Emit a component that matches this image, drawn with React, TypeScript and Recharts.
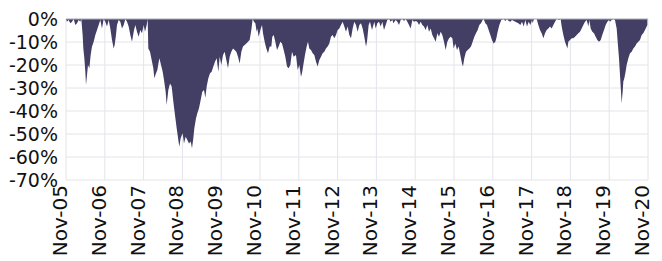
import { AreaChart, Area, XAxis, YAxis, CartesianGrid, ReferenceLine } from 'recharts';

// Drawdown series: months since Nov-05 and drawdown in %
const months = [
  0, 0.31, 0.82, 1.34, 1.86, 2.37, 2.89, 3.4, 3.92, 4.43, 4.74, 5.15, 5.36, 5.67, 5.98, 6.19, 6.5, 6.8, 7.22, 7.63,
  8.04, 8.56, 9.07, 9.59, 10.1, 10.62, 11.13, 11.65, 12.16, 12.68, 13.2, 13.71, 14.23, 14.74, 15.05, 15.46, 15.77, 16.29, 16.8, 17.32,
  17.84, 18.35, 18.87, 19.38, 19.9, 20.41, 20.93, 21.44, 21.96, 22.47, 22.99, 23.5, 24.02, 24.43, 24.95, 25.26, 25.46, 25.98, 26.5, 27.01,
  27.32, 27.84, 28.25, 28.87, 29.28, 29.9, 30.31, 30.82, 31.13, 31.65, 32.17, 32.68, 33.2, 33.71, 34.23, 34.74, 35.05, 35.46, 36.08, 36.49,
  37.01, 37.53, 38.04, 38.56, 38.97, 39.38, 39.69, 40.21, 40.62, 41.13, 41.65, 42.15, 42.68, 43.09, 43.51, 44.02, 44.54, 45.05, 45.57, 46.08,
  46.6, 47.11, 47.53, 48.04, 48.56, 49.07, 49.59, 50.1, 50.62, 51.13, 51.65, 52.16, 52.68, 53.2, 53.71, 54.23, 54.74, 55.26, 55.77, 56.29,
  56.8, 57.32, 57.73, 58.14, 58.56, 58.97, 59.18, 59.59, 60.1, 60.62, 60.93, 61.44, 61.96, 62.47, 62.99, 63.5, 63.81, 64.23, 64.74, 65.26,
  65.77, 66.29, 66.8, 67.32, 67.83, 68.35, 68.87, 69.38, 69.9, 70.41, 71.13, 71.65, 72.16, 72.68, 72.99, 73.4, 73.91, 74.43, 74.84, 75.25,
  75.77, 76.29, 76.8, 77.32, 77.83, 78.35, 78.86, 79.38, 79.89, 80.41, 80.92, 81.44, 81.95, 82.47, 82.99, 83.5, 84.02, 84.53, 85.05, 85.56,
  86.08, 86.59, 87.11, 87.62, 88.14, 88.66, 89.17, 89.69, 90.2, 90.72, 91.23, 91.75, 92.26, 92.78, 93.09, 93.6, 94.02, 94.64, 95.36, 95.78,
  96.29, 96.81, 97.32, 97.84, 98.35, 98.87, 99.38, 99.9, 100.41, 100.93, 101.24, 101.96, 102.48, 102.99, 103.51, 104.02, 104.54, 105.05, 105.57, 106.08,
  106.6, 107.12, 107.63, 108.15, 108.66, 109.18, 109.69, 110.21, 110.72, 111.24, 111.75, 112.27, 112.79, 113.3, 113.82, 114.33, 114.85, 115.36, 115.88, 116.39,
  116.91, 117.42, 117.94, 118.46, 118.97, 119.49, 119.9, 120.41, 120.93, 121.44, 121.96, 122.47, 122.78, 123.19, 123.71, 124.23, 124.74, 125.26, 125.77, 126.29,
  126.8, 127.32, 127.83, 128.35, 128.86, 129.17, 129.69, 130.2, 130.72, 131.24, 131.75, 132.27, 132.78, 133.09, 133.5, 134.02, 134.64, 135.36, 135.88, 136.39,
  136.91, 137.42, 137.94, 138.97, 139.9, 140.52, 141.03, 141.55, 142.06, 142.58, 143.09, 143.61, 144.12, 144.33, 144.75, 145.57, 146.09, 146.6, 147.12, 147.63,
  148.15, 148.66, 149.18, 149.7, 150.21, 150.73, 151.24, 151.76, 152.58, 152.99, 153.3, 153.82, 154.33, 154.85, 155.06, 155.37, 155.88, 156.4, 156.91, 157.43,
  157.94, 158.46, 158.97, 159.49, 160, 160.52, 161.04, 161.55, 161.86, 162.27, 162.79, 163.3, 163.82, 164.33, 164.85, 165.37, 165.88, 166.4, 166.91, 167.43,
  167.94, 168.24, 168.76, 169.28, 169.79, 170.31, 170.62, 171.03, 171.34, 171.65, 171.85, 172.16, 172.37, 172.68, 172.99, 173.4, 173.92, 174.43, 174.95, 175.46,
  175.98, 176.49, 177.01, 177.52, 178.04, 178.55, 179.07, 179.59, 179.8,
];

const drawdown = [
  0, -1.2, -0.4, -1.9, -1.2, 0, -2.6, -1.9, -0.4, -1.2, 0, -7, -12.8, -17.1, -22.9, -28.7, -24.3, -20, -21.4, -15.7,
  -12, -9.9, -7, -4.8, -2.6, -0.4, -4.1, 0, -1.2, -3.3, -0.4, -4.1, -9.1, -12.8, -11.3, -7, -2.6, -0.4, -1.2, -4.1,
  -2.6, 0, -1.2, -3.3, -7, -9.9, -5.5, -2.6, -5.5, -7.7, -4.8, -6.2, -2.6, -5.5, -2.6, 0, -12.8, -14.2, -17.8, -21.4,
  -25.8, -23.6, -22.2, -17.1, -19.3, -22.9, -26.5, -31.6, -37.4, -30.9, -28, -29.4, -36, -41.7, -47.5, -52.6, -55.5, -51.9, -49.7, -54.1,
  -51.2, -52.6, -54.1, -53.3, -56.2, -51.9, -47.5, -43.2, -41, -38.8, -35.2, -31.6, -30.9, -34.2, -29.4, -25.8, -23.6, -22.9, -20.7, -18.6,
  -17.1, -22.9, -16.4, -20, -15.7, -14.2, -17.8, -21.4, -16.4, -14.2, -12.8, -13.5, -14.2, -16.4, -19.3, -14.2, -12, -11.3, -10.6, -9.9,
  -9.1, -4.8, 0, -1.2, -1.9, -5.5, -4.1, -7.7, -4.8, -2.6, -6.2, -9.9, -12.8, -14.9, -12, -12, -7.7, -7, -9.9, -13.5,
  -12, -9.9, -10.6, -13.5, -16.4, -20.7, -21.4, -20, -14.2, -16.4, -15.7, -22.2, -20, -25.1, -23.6, -20, -15.7, -12, -9.9, -12.8,
  -13.5, -14.9, -15.7, -18.6, -20.7, -17.8, -16.4, -14.9, -14.2, -12.8, -12, -10.6, -7.7, -7, -8.4, -7, -4.8, -4.1, -2.6, -1.2,
  -3.3, -5.5, -3.3, -7, -8.4, -4.1, -1.2, -2.6, -5.5, -2.6, -1.9, -4.1, -7.7, -12, -9.9, -2.6, -1.2, -4.8, -1.2, -4.1,
  -1.9, -1.2, -3.3, -1.2, -4.8, -2.6, -0.4, 0, -1.2, -0.3, -1.9, -0.4, -1.2, -2.6, -0.4, 0, -0.9, 0, -1.2, -2.6,
  -4.1, -0.4, -1.2, -0.9, -1.2, -2.6, -1.2, -2.6, -3.3, -4.8, -2.6, -5.5, -4.1, -7, -8.4, -9.9, -6.2, -7.7, -5.5, -7,
  -9.9, -13.5, -9.9, -8.4, -7.7, -8.4, -12.8, -10.6, -13.5, -12, -15.7, -19.3, -20.7, -17.1, -14.2, -13.5, -12.8, -12, -9.9, -7.7,
  -6.2, -4.8, -2.6, -1.9, -0.4, 0, -1.9, -2.6, -4.8, -7, -9.1, -10.6, -9.9, -8.4, -5.5, -2.6, -0.4, 0, -0.9, 0,
  -0.9, -1.2, -0.4, -1.2, -1.9, -2.6, -1.2, -3.3, -0.4, -3.3, -1.2, -2.6, -0.4, -1.9, 0, 0, -2.6, -4.8, -6.2, -8.4,
  -6.2, -4.8, -4.1, -3.3, -4.1, -2.6, -1.2, 0, -0.4, 0, -3.3, -7, -9.9, -12, -12.8, -9.9, -9.1, -8.4, -8.4, -7.7,
  -7, -6.2, -5.5, -4.1, -2.6, -1.2, -0.4, -3.3, -0.4, -4.1, -5.5, -6.2, -7.7, -9.1, -9.9, -9.1, -6.9, -4.8, -2.6, -1.2,
  -0.4, -1.2, -0.4, 0, -0.4, -4.1, -9.9, -17.1, -24.3, -31.6, -36.7, -31.6, -27.2, -25.8, -23.6, -20, -17.1, -14.9, -14.2, -12.8,
  -12, -10.6, -9.9, -9.1, -7, -6.2, -4.8, -3.3, -2.6,
];

const tickMonths = [0, 12, 24, 36, 48, 60, 72, 84, 96, 108, 120, 132, 144, 156, 168, 180];
const tickLabels = [
  'Nov-05', 'Nov-06', 'Nov-07', 'Nov-08', 'Nov-09', 'Nov-10', 'Nov-11', 'Nov-12',
  'Nov-13', 'Nov-14', 'Nov-15', 'Nov-16', 'Nov-17', 'Nov-18', 'Nov-19', 'Nov-20',
];
const yTicks = [0, -10, -20, -30, -40, -50, -60, -70];

const data = months.map((m, i) => ({ m, dd: drawdown[i] }));

const FONT = '"DejaVu Sans", sans-serif';

// eslint-disable-next-line @typescript-eslint/no-explicit-any
function XTick(props: any) {
  const { x, y, payload } = props;
  const idx = tickMonths.indexOf(payload.value);
  return (
    <text
      x={x}
      y={y}
      dy={1}
      transform={`rotate(-90 ${x} ${y})`}
      textAnchor="end"
      fontSize={20}
      fontFamily={FONT}
      fill="#111"
    >
      {tickLabels[idx] ?? ''}
    </text>
  );
}

export default function App() {
  return (
    <div style={{ position: 'absolute', left: 0, top: 0, width: 662, height: 261, background: '#fff' }}>
      <AreaChart width={662} height={261} data={data} margin={{ top: 19, right: 14, left: 0, bottom: 0 }}>
        <CartesianGrid stroke="#e4e4ea" strokeWidth={1} />
        <XAxis
          dataKey="m"
          type="number"
          domain={[0, 180]}
          ticks={tickMonths}
          interval={0}
          height={81}
          axisLine={false}
          tickLine={false}
          tickSize={0}
          tickMargin={5}
          tick={<XTick />}
        />
        <YAxis
          type="number"
          domain={[-70, 0]}
          ticks={yTicks}
          interval={0}
          width={66}
          axisLine={false}
          tickLine={false}
          tickFormatter={(v: number) => `${v}%`}
          tick={{ fontSize: 19, fontFamily: FONT, fill: '#111' }}
        />
        <Area
          type="linear"
          dataKey="dd"
          stroke="none"
          fill="#433e63"
          fillOpacity={1}
          baseValue={0}
          isAnimationActive={false}
        />
        <ReferenceLine y={0} stroke="#b4b4bc" strokeWidth={1} />
      </AreaChart>
    </div>
  );
}
